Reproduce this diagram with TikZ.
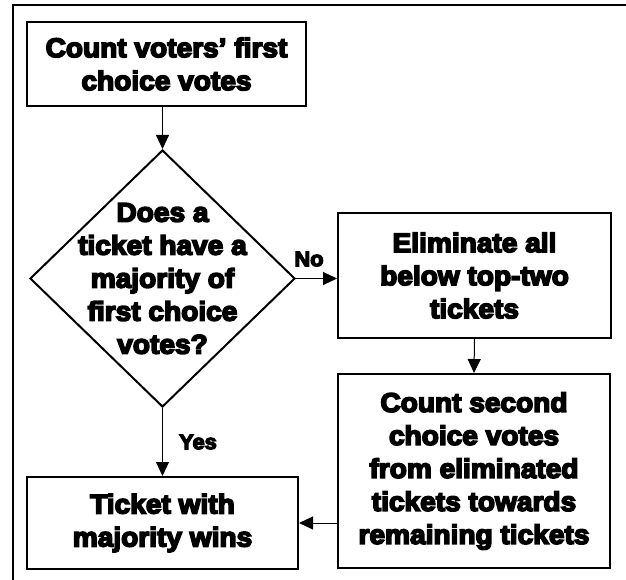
\documentclass[tikz,border=0pt]{standalone}
\usepackage{fontspec}
\newfontfamily\blk{Liberation Sans}[BoldFeatures={FakeBold=6,FakeStretch=1.04}]
\newcommand\bigfont{\blk\bfseries\fontsize{27}{33}\selectfont}
\newcommand\lblfont{\blk\bfseries\fontsize{21}{24}\selectfont}
\usetikzlibrary{arrows.meta,shapes.geometric}
\begin{document}
\begin{tikzpicture}[x=1pt,y=-1pt,
  box/.style={draw, line width=2pt, inner sep=0pt, align=center, font=\bigfont},
  arr/.style={line width=1pt, -{Triangle[length=14pt,width=13pt]}},
  lbl/.style={font=\lblfont, inner sep=0pt}]
\useasboundingbox (0,0) rectangle (626,580);
\draw[line width=2pt] (13,5) rectangle (680,640);
\node[box, minimum width=279pt, minimum height=84pt] (b1) at (166.5,64) {Count voters’ first\\choice votes};
\node[draw, diamond, line width=2pt, minimum width=265pt, minimum height=257pt, inner sep=0pt] (dia) at (162.5,278.5) {};
\node[font=\bigfont, align=center, inner sep=0pt] (diat) at (dia.center) {Does a\\ticket have a\\majority of\\first choice\\votes?};
\node[box, minimum width=273pt, minimum height=125pt] (b2) at (474.5,275.5) {Eliminate all\\below top-two\\tickets};
\node[box, minimum width=272pt, minimum height=194pt] (b3) at (474,471) {Count second\\choice votes\\from eliminated\\tickets towards\\remaining tickets};
\node[box, minimum width=271pt, minimum height=92pt] (b4) at (162.5,523) {Ticket with\\majority wins};
\draw[arr] (dia.north |- b1.south) -- (dia.north);
\draw[arr] (dia.east) -- (dia.east -| b2.west);
\draw[arr] (b2.south) -- (b3.north);
\draw[arr] (b4.east -| b3.west) -- (b4.east);
\draw[arr] (dia.south) -- (b4.north);
\node[lbl] (no) at (309,259) {No};
\node[lbl] (yes) at (198,442) {Yes};
\end{tikzpicture}
\end{document}
